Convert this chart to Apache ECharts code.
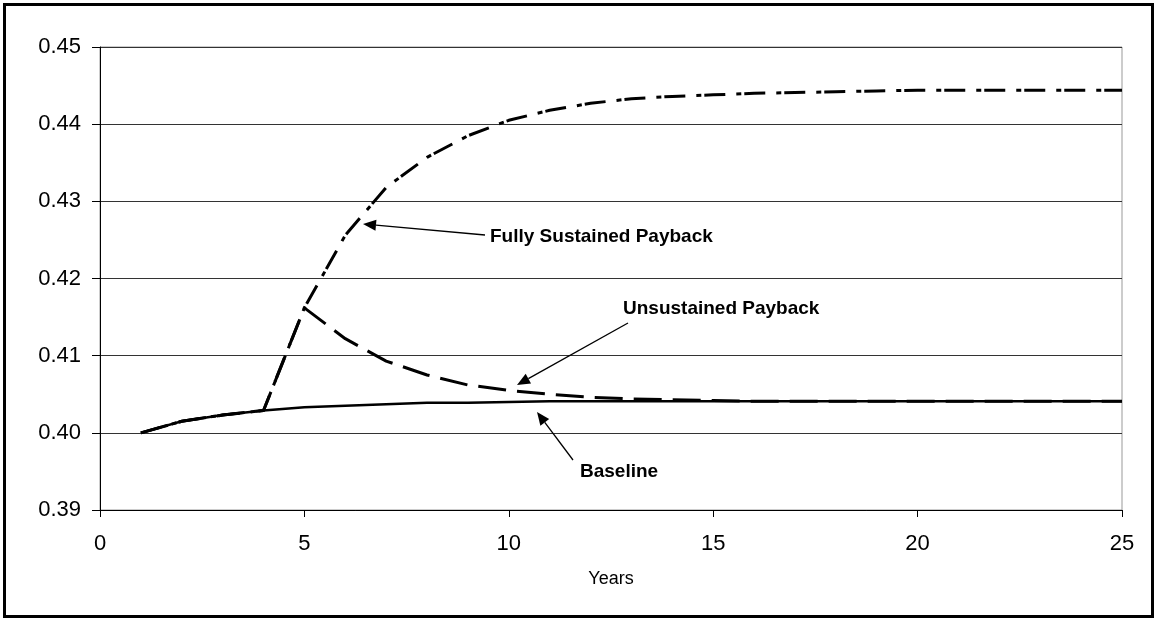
<!DOCTYPE html>
<html>
<head>
<meta charset="utf-8">
<script src="https://cdn.jsdelivr.net/npm/echarts@6/dist/echarts.min.js"></script>
<style>
html,body{margin:0;padding:0;background:#fff;}
#chart{width:1156px;height:619px;}
</style>
</head>
<body>
<div id="chart"></div>
<script>
const years = [1,2,3,4,5,6,7,8,9,10,11,12,13,14,15,16,17,18,19,20,21,22,23,24,25];
const baseline = [0.4000,0.4015,0.4023,0.4029,0.4033,0.4035,0.4037,0.4039,0.4039,0.4040,0.4041,0.4041,0.4041,0.4041,0.4041,0.4041,0.4041,0.4041,0.4041,0.4041,0.4041,0.4041,0.4041,0.4041,0.4041];
const unsustained = [0.4000,0.4015,0.4023,0.4029,0.4162,0.4122,0.4093,0.4075,0.4062,0.4055,0.4050,0.4046,0.4044,0.4043,0.4042,0.4041,0.4041,0.4041,0.4041,0.4041,0.4041,0.4041,0.4041,0.4041,0.4041];
const sustained = [0.4000,0.4015,0.4023,0.4029,0.4162,0.4256,0.4318,0.4357,0.4385,0.4405,0.4418,0.4427,0.4433,0.4436,0.4438,0.4440,0.4441,0.4442,0.4443,0.4444,0.4444,0.4444,0.4444,0.4444,0.4444];
const xTicks = {min:0, max:25, interval:5};
const yTicks = {min:0.39, max:0.45, interval:0.01};
const labels = [
  {text:'Fully Sustained Payback', x:490, y:237, from:[485,235], to:[363,224]},
  {text:'Unsustained Payback', x:623, y:309, from:[628,323], to:[517,385]},
  {text:'Baseline', x:580, y:472, from:[573,460], to:[537,412]}
];

function pairs(v){ return years.map((x,i)=>[x,v[i]]); }

const graphics = [];
graphics.push({type:'rect', shape:{x:4.5,y:4.5,width:1148,height:612}, style:{fill:'none',stroke:'#000',lineWidth:3}, z:100});
labels.forEach(l=>{
  graphics.push({type:'text', x:l.x, y:l.y, style:{text:l.text, fill:'#000', font:'bold 19px "Liberation Sans", Arial, sans-serif', textVerticalAlign:'middle', verticalAlign:'middle'}, z:50});
  const dx=l.to[0]-l.from[0], dy=l.to[1]-l.from[1];
  const len=Math.sqrt(dx*dx+dy*dy), ux=dx/len, uy=dy/len;
  const hl=13, hw=5.5;
  const bx=l.to[0]-ux*hl, by=l.to[1]-uy*hl;
  graphics.push({type:'line', shape:{x1:l.from[0],y1:l.from[1],x2:bx,y2:by}, style:{stroke:'#000',lineWidth:1.3}, z:50});
  graphics.push({type:'polygon', shape:{points:[[l.to[0],l.to[1]],[bx-uy*hw,by+ux*hw],[bx+uy*hw,by-ux*hw]]}, style:{fill:'#000'}, z:50});
});

const chart = echarts.init(document.getElementById('chart'), null, {renderer:'canvas'});
chart.setOption({
  animation:false,
  backgroundColor:'#fff',
  grid:{left:100, right:34, top:47, bottom:109, show:true, borderColor:'#999', borderWidth:1, backgroundColor:'transparent'},
  xAxis:{
    type:'value', min:xTicks.min, max:xTicks.max, interval:xTicks.interval,
    name:'Years', nameLocation:'middle', nameGap:60,
    nameTextStyle:{fontFamily:'Liberation Sans', fontSize:18, color:'#000'},
    axisLine:{show:true, lineStyle:{color:'#000', width:1}},
    axisTick:{show:true, inside:false, length:7, lineStyle:{color:'#000'}},
    axisLabel:{fontFamily:'Liberation Sans', fontSize:22, color:'#000', margin:23},
    splitLine:{show:false}
  },
  yAxis:{
    type:'value', min:yTicks.min, max:yTicks.max, interval:yTicks.interval,
    axisLine:{show:true, lineStyle:{color:'#000', width:1}},
    axisTick:{show:true, inside:false, length:8, lineStyle:{color:'#000'}},
    axisLabel:{fontFamily:'Liberation Sans', fontSize:22, color:'#000', margin:19, formatter:v=>v.toFixed(2)},
    splitLine:{show:true, lineStyle:{color:'#333', width:1}}
  },
  series:[
    {type:'line', name:'Fully Sustained Payback', data:pairs(sustained), symbol:'none', smooth:false, z:3,
     lineStyle:{color:'#000', width:3, type:[21,11,5,3], cap:'butt', join:'round'}},
    {type:'line', name:'Unsustained Payback', data:pairs(unsustained), symbol:'none', smooth:false, z:4,
     lineStyle:{color:'#000', width:3, type:[28,11], cap:'butt', join:'round'}},
    {type:'line', name:'Baseline', data:pairs(baseline), symbol:'none', smooth:false, z:5,
     lineStyle:{color:'#000', width:2.5, type:'solid', join:'round'}}
  ],
  graphic:graphics
});
</script>
</body>
</html>
